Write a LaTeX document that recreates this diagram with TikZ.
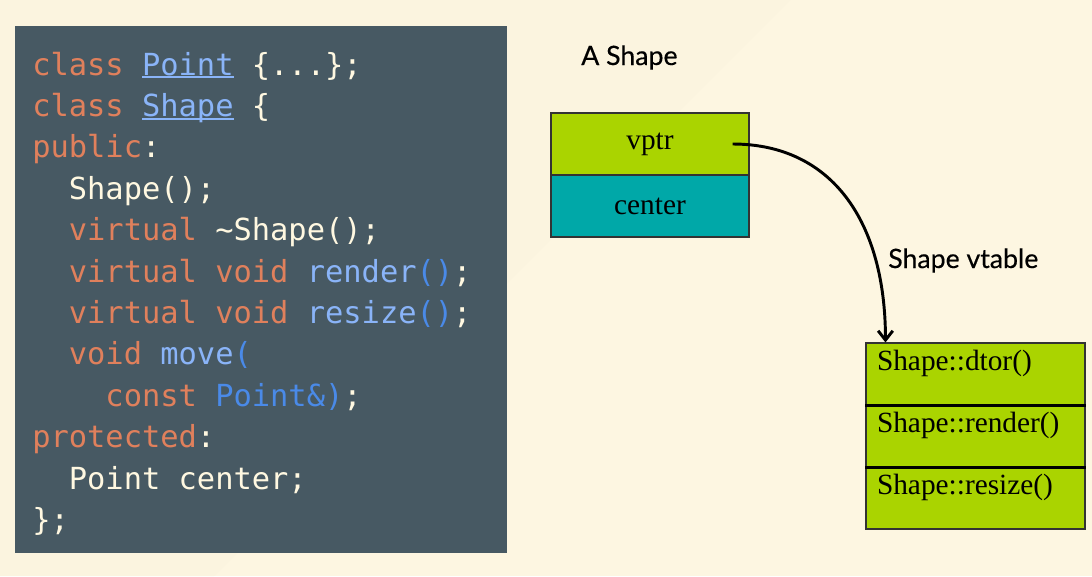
\documentclass[tikz,border=0pt]{standalone}
\usepackage{fontspec}
\usetikzlibrary{arrows.meta}
\newfontfamily\codefont{DejaVu Sans Mono}
\newfontfamily\labelfont[FakeBold=0.4]{Lato}
\newfontfamily\cellfont{Liberation Serif}

\definecolor{paper}{HTML}{FDF6E1}
\definecolor{paperleft}{HTML}{FBF4DF}
\definecolor{slate}{HTML}{475963}
\definecolor{kwcol}{HTML}{E0805C}
\definecolor{tycol}{HTML}{8AB4F8}
\definecolor{pncol}{HTML}{4A8AE8}
\definecolor{txtcol}{HTML}{FFF8E1}
\definecolor{limegreen}{HTML}{AAD400}
\definecolor{tealbox}{HTML}{00A8A8}

\newcommand\kw[1]{\textcolor{kwcol}{#1}}
\newcommand\ty[1]{\textcolor{tycol}{#1}}
\newcommand\pn[1]{\textcolor{pncol}{#1}}
\newcommand\und[1]{\setbox0\hbox{#1}\rlap{\color{tycol}\rule[-2.4pt]{\wd0}{1.4pt}}\box0\relax}
\newcommand\ind[1]{\hspace*{#1\fontcharwd\font`x}}

\tikzset{
	codeline/.style={anchor=base west, inner sep=0pt, text=txtcol,
		font=\codefont\fontsize{22.8}{31}\selectfont},
	slot/.style={draw=black!80, line width=0.8pt, minimum width=148.5pt,
		minimum height=46.5pt, inner sep=0pt, font=\cellfont\fontsize{22}{26}\selectfont},
	cell/.style={draw=black!80, line width=0.8pt, fill=limegreen, inner ysep=0pt,
		inner xsep=8.25pt, text width=147.75pt, align=left,
		text height=20.25pt, text depth=26.25pt, font=\cellfont\fontsize{22}{26}\selectfont},
	caption/.style={anchor=base west, inner sep=0pt, font=\labelfont\fontsize{20}{24}\selectfont}
}

\begin{document}
\begin{tikzpicture}[x=0.75pt, y=-0.75pt]
	% background
	\fill[paper] (0,0) rectangle (1092,576);
	\fill[paperleft] (0,0) -- (790,0) -- (214,576) -- (0,576) -- cycle;
	\useasboundingbox (0,0) rectangle (1092,576);
	
	% code panel
	\fill[slate] (15,26) rectangle (507,553);
	\node[codeline] (l1) at (32,75) {\kw{class} \und{\ty{Point}} \{...\};};
	\node[codeline] (l2) at (32,116.4) {\kw{class} \und{\ty{Shape}} \{};
	\node[codeline] (l3) at (32,157.8) {\kw{public}:};
	\node[codeline] (l4) at (32,199.2) {\ind{2}Shape();};
	\node[codeline] (l5) at (32,240.6) {\ind{2}\kw{virtual} \textasciitilde Shape();};
	\node[codeline] (l6) at (32,282) {\ind{2}\kw{virtual void} \ty{render}\pn{()};};
	\node[codeline] (l7) at (32,323.4) {\ind{2}\kw{virtual void} \ty{resize}\pn{()};};
	\node[codeline] (l8) at (32,364.8) {\ind{2}\kw{void} \ty{move}\pn{(}};
	\node[codeline] (l9) at (32,406.2) {\ind{4}\kw{const} \pn{Point\&)};};
	\node[codeline] (l10) at (32,447.6) {\kw{protected}:};
	\node[codeline] (l11) at (32,489) {\ind{2}Point center;};
	\node[codeline] (l12) at (32,530.4) {\};};
	
	% the object
	\node[caption] (objtitle) at (581,65) {A Shape};
	\node[slot, fill=limegreen] (vptr) at (650,144) {vptr};
	\node[slot, fill=tealbox] (center) at (650,206) {center};
	
	% the vtable
	\node[caption] (vtbltitle) at (888,268) {Shape vtable};
	\node[cell] (dtor) at (975.5,374) {Shape::dtor()};
	\node[cell] (render) at (975.5,436) {Shape::render()};
	\node[cell] (resize) at (975.5,498) {Shape::resize()};
	\draw[line width=1.8pt] (dtor.south west) -- (dtor.south east);
	\draw[line width=1.8pt] (render.south west) -- (render.south east);
	
	% pointer
	\draw[line width=2.2pt, -{Straight Barb[length=7pt, width=11pt]}]
		([xshift=-12.75pt]vptr.east) .. controls +(100,0) and +(0,-120) .. ([xshift=15pt]dtor.north west);
\end{tikzpicture}
\end{document}
